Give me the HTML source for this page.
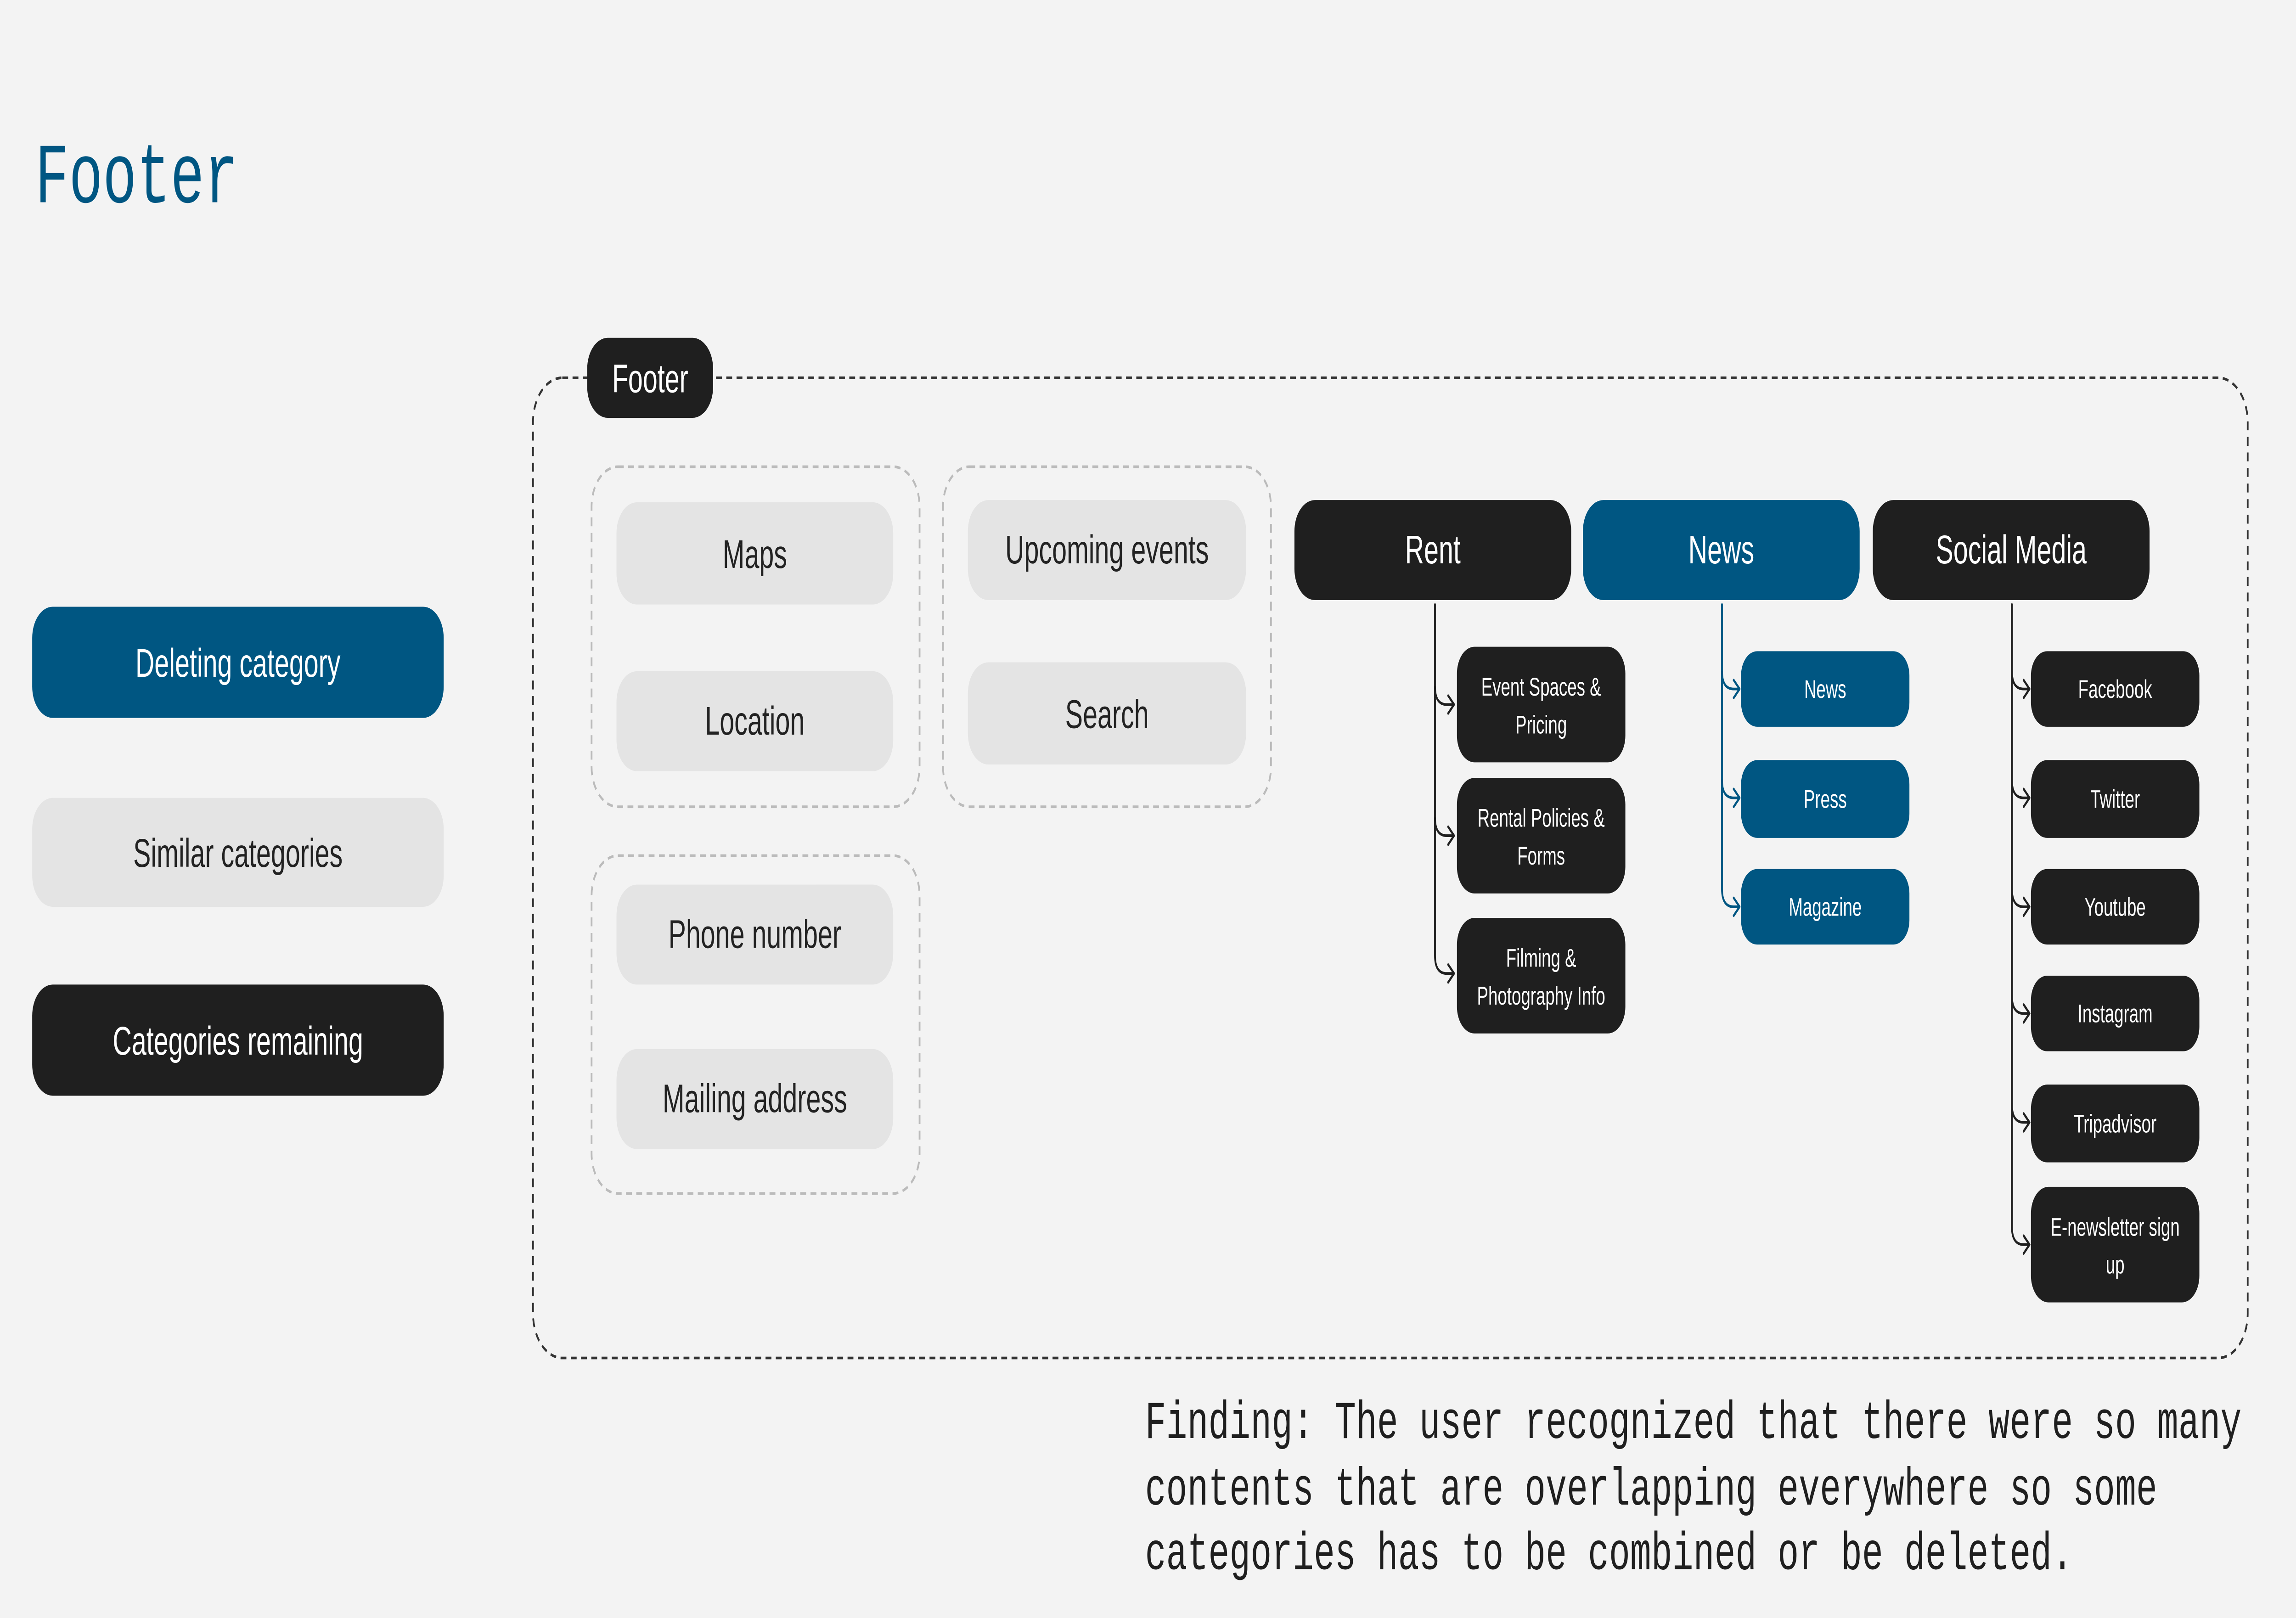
<!DOCTYPE html>
<html><head><meta charset="utf-8"><style>
html,body{margin:0;padding:0;background:#f3f3f3;overflow:hidden;width:100%;height:100%;}
svg{display:block;position:fixed;left:0;top:0;width:100vw;height:100vh;}
text{font-family:"Liberation Sans",sans-serif;}
.m{font-family:"Liberation Mono",monospace;}
</style></head><body>
<svg viewBox="0 0 1568 728" preserveAspectRatio="none" xmlns="http://www.w3.org/2000/svg">
<rect width="1568" height="728" fill="#f3f3f3"/>
<text class="m" x="24" y="91" font-size="38.5" fill="#005682">Footer</text>

<g font-size="18" text-anchor="middle">
<rect x="22" y="273" width="281" height="50" rx="14" fill="#005682"/>
<text x="162.5" y="304.5" fill="#fff">Deleting category</text>
<rect x="22" y="359" width="281" height="49" rx="14" fill="#e4e4e4"/>
<text x="162.5" y="390" fill="#222">Similar categories</text>
<rect x="22" y="443" width="281" height="50" rx="14" fill="#1f1f1f"/>
<text x="162.5" y="474.5" fill="#fff">Categories remaining</text>
</g>

<rect x="364" y="170" width="1171" height="441" rx="20" fill="none" stroke="#333" stroke-width="1.2" stroke-dasharray="4 3"/>
<rect x="401" y="152" width="86" height="36" rx="14" fill="#1f1f1f"/>
<text x="444" y="176.5" font-size="18" fill="#fff" text-anchor="middle">Footer</text>

<g fill="none" stroke="#bbb" stroke-width="1.2" stroke-dasharray="4 3">
<rect x="404" y="210" width="224" height="153" rx="18"/>
<rect x="644" y="210" width="224" height="153" rx="18"/>
<rect x="404" y="385" width="224" height="152" rx="18"/>
</g>

<g font-size="18" text-anchor="middle" fill="#222">
<rect x="421" y="226" width="189" height="46" rx="14" fill="#e4e4e4"/>
<text x="515.5" y="255.5">Maps</text>
<rect x="421" y="302" width="189" height="45" rx="14" fill="#e4e4e4"/>
<text x="515.5" y="330.5">Location</text>
<rect x="661" y="225" width="190" height="45" rx="14" fill="#e4e4e4"/>
<text x="756" y="253.5">Upcoming events</text>
<rect x="661" y="298" width="190" height="46" rx="14" fill="#e4e4e4"/>
<text x="756" y="327.5">Search</text>
<rect x="421" y="398" width="189" height="45" rx="14" fill="#e4e4e4"/>
<text x="515.5" y="426.5">Phone number</text>
<rect x="421" y="472" width="189" height="45" rx="14" fill="#e4e4e4"/>
<text x="515.5" y="500.5">Mailing address</text>
</g>

<g font-size="18" text-anchor="middle" fill="#fff">
<rect x="884" y="225" width="189" height="45" rx="14" fill="#1f1f1f"/>
<text x="978.5" y="253.5">Rent</text>
<rect x="1081" y="225" width="189" height="45" rx="14" fill="#005682"/>
<text x="1175.5" y="253.5">News</text>
<rect x="1279" y="225" width="189" height="45" rx="14" fill="#1f1f1f"/>
<text x="1373.5" y="253.5">Social Media</text>
</g>

<g fill="none" stroke-width="1.2" stroke-linecap="round" stroke-linejoin="round">
<g stroke="#1f1f1f">
<path d="M980 272 V430 Q980 438 988 438 H993 M989 434 L993 438 L989 442"/>
<path d="M980 309 Q980 317 988 317 H993 M989 313 L993 317 L989 321"/>
<path d="M980 368 Q980 376 988 376 H993 M989 372 L993 376 L989 380"/>
</g>
<g stroke="#005682">
<path d="M1176 272 V400 Q1176 408 1184 408 H1188 M1184 404 L1188 408 L1184 412"/>
<path d="M1176 302 Q1176 310 1184 310 H1188 M1184 306 L1188 310 L1184 314"/>
<path d="M1176 351 Q1176 359 1184 359 H1188 M1184 355 L1188 359 L1184 363"/>
</g>
<g stroke="#1f1f1f">
<path d="M1374 272 V552 Q1374 560 1382 560 H1386 M1382 556 L1386 560 L1382 564"/>
<path d="M1374 302 Q1374 310 1382 310 H1386 M1382 306 L1386 310 L1382 314"/>
<path d="M1374 351 Q1374 359 1382 359 H1386 M1382 355 L1386 359 L1382 363"/>
<path d="M1374 400 Q1374 408 1382 408 H1386 M1382 404 L1386 408 L1382 412"/>
<path d="M1374 448 Q1374 456 1382 456 H1386 M1382 452 L1386 456 L1382 460"/>
<path d="M1374 497 Q1374 505 1382 505 H1386 M1382 501 L1386 505 L1382 509"/>
</g>
</g>

<g font-size="11.5" text-anchor="middle" fill="#fff">
<rect x="995" y="291" width="115" height="52" rx="12" fill="#1f1f1f"/>
<text x="1052.5" y="313">Event Spaces &amp;</text><text x="1052.5" y="330">Pricing</text>
<rect x="995" y="350" width="115" height="52" rx="12" fill="#1f1f1f"/>
<text x="1052.5" y="372">Rental Policies &amp;</text><text x="1052.5" y="389">Forms</text>
<rect x="995" y="413" width="115" height="52" rx="12" fill="#1f1f1f"/>
<text x="1052.5" y="435">Filming &amp;</text><text x="1052.5" y="452">Photography Info</text>

<rect x="1189" y="293" width="115" height="34" rx="11" fill="#005682"/>
<text x="1246.5" y="314">News</text>
<rect x="1189" y="342" width="115" height="35" rx="11" fill="#005682"/>
<text x="1246.5" y="363.5">Press</text>
<rect x="1189" y="391" width="115" height="34" rx="11" fill="#005682"/>
<text x="1246.5" y="412">Magazine</text>

<rect x="1387" y="293" width="115" height="34" rx="11" fill="#1f1f1f"/>
<text x="1444.5" y="314">Facebook</text>
<rect x="1387" y="342" width="115" height="35" rx="11" fill="#1f1f1f"/>
<text x="1444.5" y="363.5">Twitter</text>
<rect x="1387" y="391" width="115" height="34" rx="11" fill="#1f1f1f"/>
<text x="1444.5" y="412">Youtube</text>
<rect x="1387" y="439" width="115" height="34" rx="11" fill="#1f1f1f"/>
<text x="1444.5" y="460">Instagram</text>
<rect x="1387" y="488" width="115" height="35" rx="11" fill="#1f1f1f"/>
<text x="1444.5" y="509.5">Tripadvisor</text>
<rect x="1387" y="534" width="115" height="52" rx="12" fill="#1f1f1f"/>
<text x="1444.5" y="556">E-newsletter sign</text><text x="1444.5" y="573">up</text>
</g>

<g font-size="24" fill="#1f1f1f">
<text class="m" x="782" y="647">Finding: The user recognized that there were so many</text>
<text class="m" x="782" y="677">contents that are overlapping everywhere so some</text>
<text class="m" x="782" y="706">categories has to be combined or be deleted.</text>
</g>
</svg>
</body></html>
